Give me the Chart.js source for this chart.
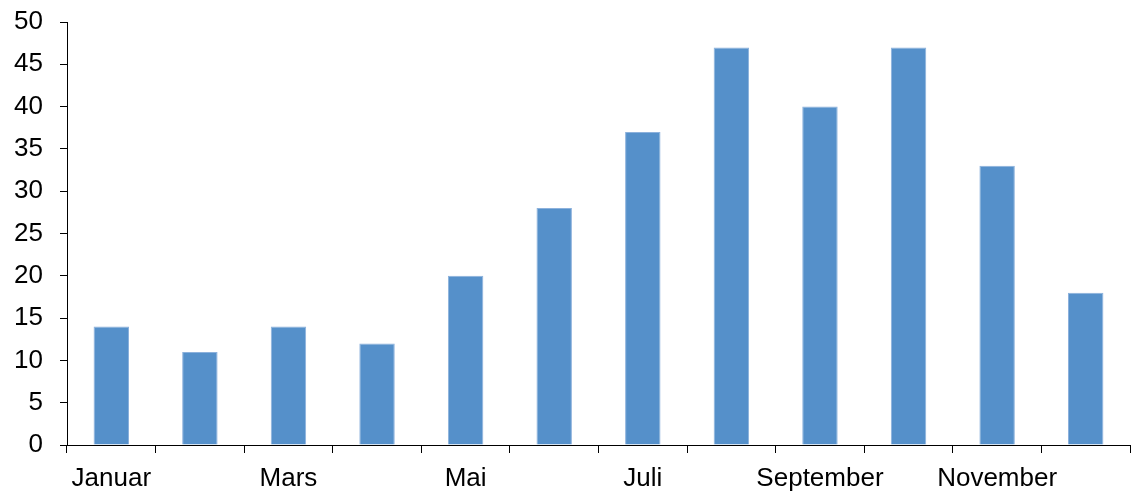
<!DOCTYPE html>
<html>
<head>
<meta charset="utf-8">
<script src="https://cdn.jsdelivr.net/npm/chart.js@4.4.1/dist/chart.umd.min.js"></script>
<style>
  html, body { margin: 0; padding: 0; background: #fff; }
  #wrap { width: 1131px; height: 494px; }
</style>
</head>
<body>
<div id="wrap"><canvas id="c" width="1131" height="494"></canvas></div>
<script>
// Monthly values
const months = ['Januar', 'Februar', 'Mars', 'April', 'Mai', 'Juni', 'Juli', 'August', 'September', 'Oktober', 'November', 'Desember'];
const values = [14, 11, 14, 12, 20, 28, 37, 47, 40, 47, 33, 18];
const yTicks = [0, 5, 10, 15, 20, 25, 30, 35, 40, 45, 50];

const FONT = { family: '"Liberation Sans", Arial, sans-serif', size: 26 };

new Chart(document.getElementById('c'), {
  type: 'bar',
  data: {
    labels: months,
    datasets: [{
      data: values,
      backgroundColor: '#5590CA',
      borderColor: '#8cb1dc',
      borderWidth: 1,
      categoryPercentage: 1.0,
      barPercentage: 0.4
    }]
  },
  options: {
    responsive: false,
    devicePixelRatio: 1,
    animation: false,
    layout: { padding: { top: 22, right: 1, bottom: 0, left: 0 } },
    plugins: { legend: { display: false }, tooltip: { enabled: false } },
    scales: {
      x: {
        offset: true,
        grid: {
          offset: true,
          drawOnChartArea: false,
          drawTicks: true,
          tickLength: 8,
          color: '#000',
          lineWidth: 1
        },
        border: { display: true, color: '#000', width: 1 },
        ticks: {
          autoSkip: false,
          maxRotation: 0,
          padding: 10,
          color: '#000',
          font: FONT,
          callback: (v, i) => (i % 2 === 0 ? months[i] : '')
        },
        afterFit: s => { s.height = 49; s.paddingLeft = 0; s.paddingRight = 0; }
      },
      y: {
        min: 0,
        max: 50,
        afterBuildTicks: s => { s.ticks = yTicks.map(v => ({ value: v })); },
        grid: {
          drawOnChartArea: false,
          drawTicks: true,
          tickLength: 7,
          color: '#000',
          lineWidth: 1
        },
        border: { display: true, color: '#000', width: 1 },
        ticks: {
          padding: 17,
          color: '#000',
          font: FONT
        },
        afterFit: s => { s.width = 67; s.paddingTop = 0; s.paddingBottom = 0; }
      }
    }
  }
});
</script>
</body>
</html>
